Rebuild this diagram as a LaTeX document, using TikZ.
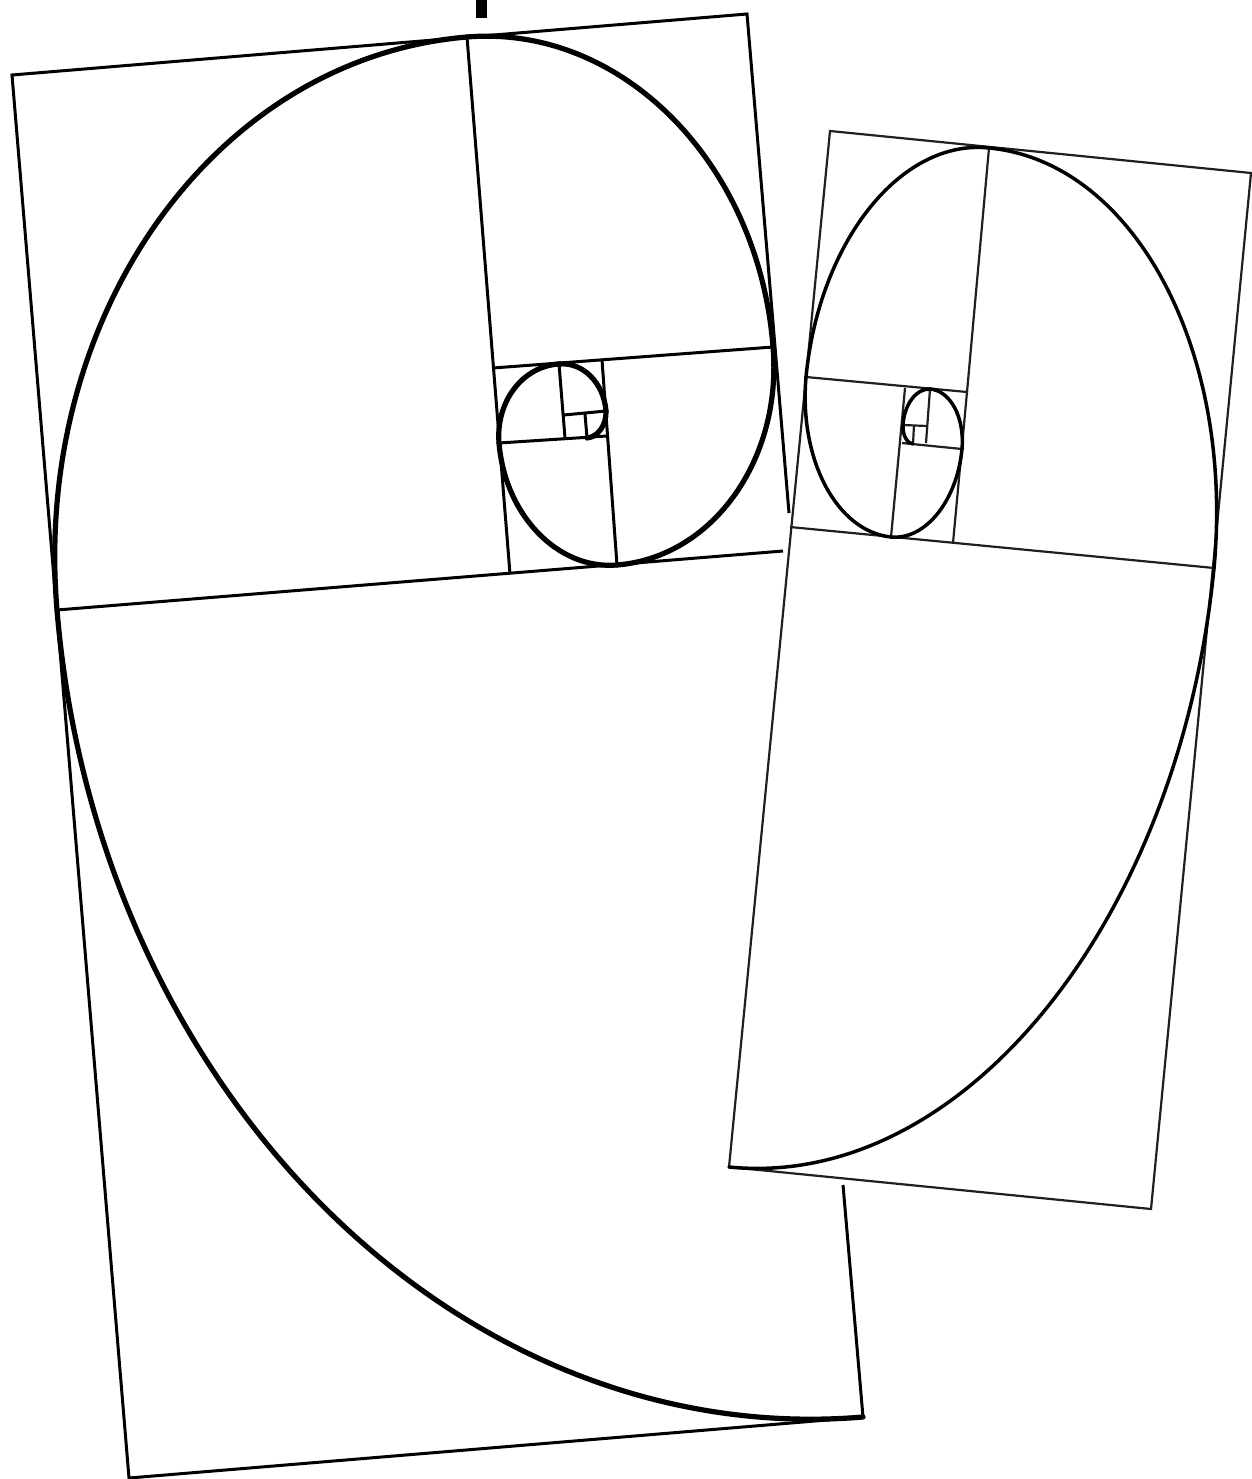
\documentclass[tikz,border=0pt]{standalone}
\usetikzlibrary{calc}
\tikzset{
  leftline/.style={line width=3pt,line join=miter,black},
  leftspiral/.style={line width=5.2pt,line cap=round,black},
  rightline/.style={line width=2.2pt,line join=miter,black!88},
  rightspiral/.style={line width=3.5pt,line cap=round,black}
}
% quarter arc: style, start, corner, end
\newcommand{\qarc}[4]{\draw[#1] (#2) .. controls ($(#2)!0.5523!(#3)$) and ($(#4)!0.5523!(#3)$) .. (#4);}
\begin{document}
\begin{tikzpicture}[x=1pt,y=-1pt]
\useasboundingbox (0,0) rectangle (1251,1479);
\fill[white] (0,0) rectangle (1251,1479);
% ---------- left figure ----------
\fill[black] (476,0) rectangle (487,18);
\coordinate (LTL) at (12,75);
\coordinate (LTR) at (747,14);
\coordinate (LBR) at (863,1417);
\coordinate (LBL) at (129,1478);
\coordinate (LEnd) at (789,513);
\coordinate (LStart) at (843,1185);
\coordinate (L1) at (57,610);
\coordinate (L1e) at (783,551);
\coordinate (L1c) at (790,551);
\coordinate (L2) at (467,37);
\coordinate (L2b) at (510,574);
\coordinate (L3) at (773,347);
\coordinate (L3b) at (493,368);
\coordinate (L4) at (617,565);
\coordinate (L4t) at (602,360);
\coordinate (L5) at (499,443);
\coordinate (L5e) at (607,436);
\coordinate (L6) at (559,364);
\coordinate (L6b) at (565,438);
\coordinate (L7) at (606,411);
\coordinate (L7b) at (564,415);
\coordinate (L8) at (585,414);
\coordinate (L8b) at (587,438);
\draw[leftline] (LEnd) -- (LTR) -- (LTL) -- (LBL) -- (LBR) -- (LStart);
\draw[leftline] (L1) -- (L1e);
\draw[leftline] (L2) -- (L2b);
\draw[leftline] (L3b) -- (L3);
\draw[leftline] (L4t) -- (L4);
\draw[leftline] (L5) -- (L5e);
\draw[leftline] (L6) -- (L6b);
\draw[leftline] (L7b) -- (L7);
\draw[leftline] (L8) -- (L8b);
\qarc{leftspiral}{LBR}{LBL}{L1}
\qarc{leftspiral}{L1}{LTL}{L2}
\qarc{leftspiral}{L2}{LTR}{L3}
\qarc{leftspiral}{L3}{L1c}{L4}
\qarc{leftspiral}{L4}{L2b}{L5}
\qarc{leftspiral}{L5}{L3b}{L6}
\qarc{leftspiral}{L6}{L4t}{L7}
\qarc{leftspiral}{L7}{L5e}{L8b}
% ---------- right figure ----------
\coordinate (RTL) at (830,131);
\coordinate (RTR) at (1251,173);
\coordinate (RBR) at (1151,1209);
\coordinate (RBL) at (729,1167);
\coordinate (R1) at (1214,568);
\coordinate (R1b) at (790,527);
\coordinate (R2) at (989,148);
\coordinate (R2b) at (967,392);
\coordinate (R3) at (806,377);
\coordinate (R4) at (891,537);
\coordinate (R4t) at (905,388);
\coordinate (R4c) at (793,527);
\coordinate (R5b) at (953,543);
\coordinate (R5) at (962,449);
\coordinate (R5l) at (902,443);
\coordinate (R6) at (930,389);
\coordinate (R6b) at (926,443);
\coordinate (R7) at (903,425);
\coordinate (R7r) at (927,426);
\coordinate (R8) at (914,425);
\coordinate (R8b) at (913,444);
\draw[rightline] (RTL) -- (RTR) -- (RBR) -- (RBL) -- cycle;
\draw[rightline] (R1b) -- (R1);
\draw[rightline] (R2) -- (R2b);
\draw[rightline] (R3) -- (R2b) -- (R5b);
\draw[rightline] (R4t) -- (R4);
\draw[rightline] (R5l) -- (R5);
\draw[rightline] (R6) -- (R6b);
\draw[rightline] (R7) -- (R7r);
\draw[rightline] (R8) -- (R8b);
\qarc{rightspiral}{RBL}{RBR}{R1}
\qarc{rightspiral}{R1}{RTR}{R2}
\qarc{rightspiral}{R2}{RTL}{R3}
\qarc{rightspiral}{R3}{R4c}{R4}
\qarc{rightspiral}{R4}{R5b}{R5}
\qarc{rightspiral}{R5}{R2b}{R6}
\qarc{rightspiral}{R6}{R4t}{R7}
\qarc{rightspiral}{R7}{R5l}{R8b}
\end{tikzpicture}
\end{document}
